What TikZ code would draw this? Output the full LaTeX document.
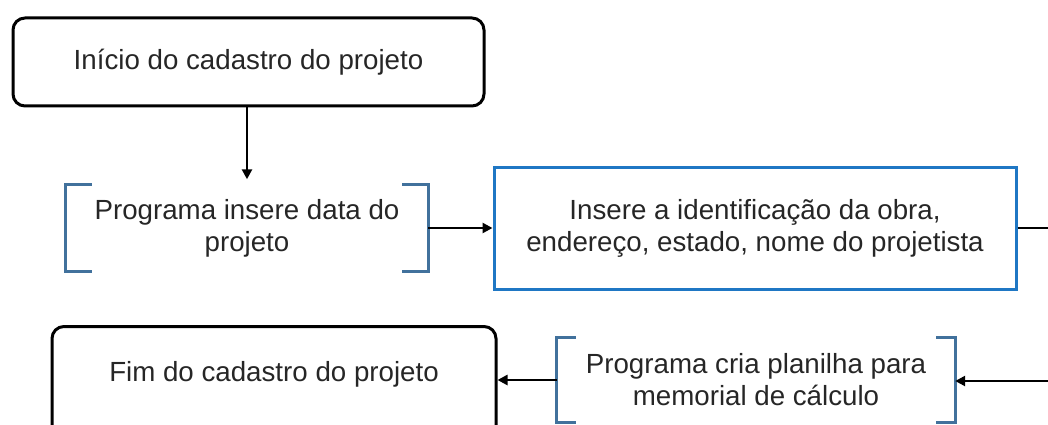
\documentclass[tikz,border=0pt]{standalone}
\usepackage{fontspec}
\setmainfont{Liberation Sans}
\usetikzlibrary{arrows.meta}
\definecolor{brkcol}{HTML}{41719C}
\definecolor{bluebox}{HTML}{1F77C4}
\definecolor{txt}{HTML}{262626}
\tikzset{
  base/.style={font=\fontsize{27.7}{32}\selectfont, text=txt, align=center, inner sep=0pt},
  rbox/.style={base, draw=black, line width=3pt, rounded corners=12pt},
  bbox/.style={base, draw=bluebox, line width=3pt},
  brnode/.style={base},
  brk/.style={draw=brkcol, line width=3pt},
  conn/.style={draw=black, line width=2.5pt},
  arr/.style={conn, -{Triangle[length=10pt,width=10pt]}}
}
\begin{document}
\begin{tikzpicture}[x=1pt,y=-1pt]
\useasboundingbox (0,0) rectangle (1048,425);
\clip (0,0) rectangle (1048,425);
\node[rbox, minimum width=471pt, minimum height=88pt] (ini) at (248.5,62) {Início do cadastro do projeto};
\node[brnode, minimum width=362pt, minimum height=87pt] (br1) at (247,228) {Programa insere data do\\projeto};
\node[bbox, minimum width=522pt, minimum height=122pt] (id) at (755,228) {Insere a identificação da obra,\\endereço, estado, nome do projetista};
\node[brnode, minimum width=398pt, minimum height=85pt] (br2) at (756,380) {Programa cria planilha para\\memorial de cálculo};
\node[rbox, minimum width=444pt, text height=55pt, text depth=60pt, anchor=north] (fim) at (274,325) {Fim do cadastro do projeto};
\coordinate (o1) at (1060,228);
\coordinate (o2) at (1060,381);
% brackets
\draw[brk] ([xshift=26pt]br1.north west) -- (br1.north west) -- (br1.south west) -- ([xshift=26pt]br1.south west);
\draw[brk] ([xshift=-26pt]br1.north east) -- (br1.north east) -- (br1.south east) -- ([xshift=-26pt]br1.south east);
\draw[brk] ([xshift=19pt]br2.north west) -- (br2.north west) -- (br2.south west) -- ([xshift=19pt]br2.south west);
\draw[brk] ([xshift=-19pt]br2.north east) -- (br2.north east) -- (br2.south east) -- ([xshift=-19pt]br2.south east);
% connectors
\draw[arr, shorten >=5pt] (ini.south -| br1.north) -- (br1.north);
\draw[arr] (br1.east) -- (id.west);
\draw[conn] (id.east) -- (o1);
\draw[arr] (o2) -- (o2 -| br2.east);
\draw[arr] (br2.west) -- (br2.west -| fim.east);
\end{tikzpicture}
\end{document}
